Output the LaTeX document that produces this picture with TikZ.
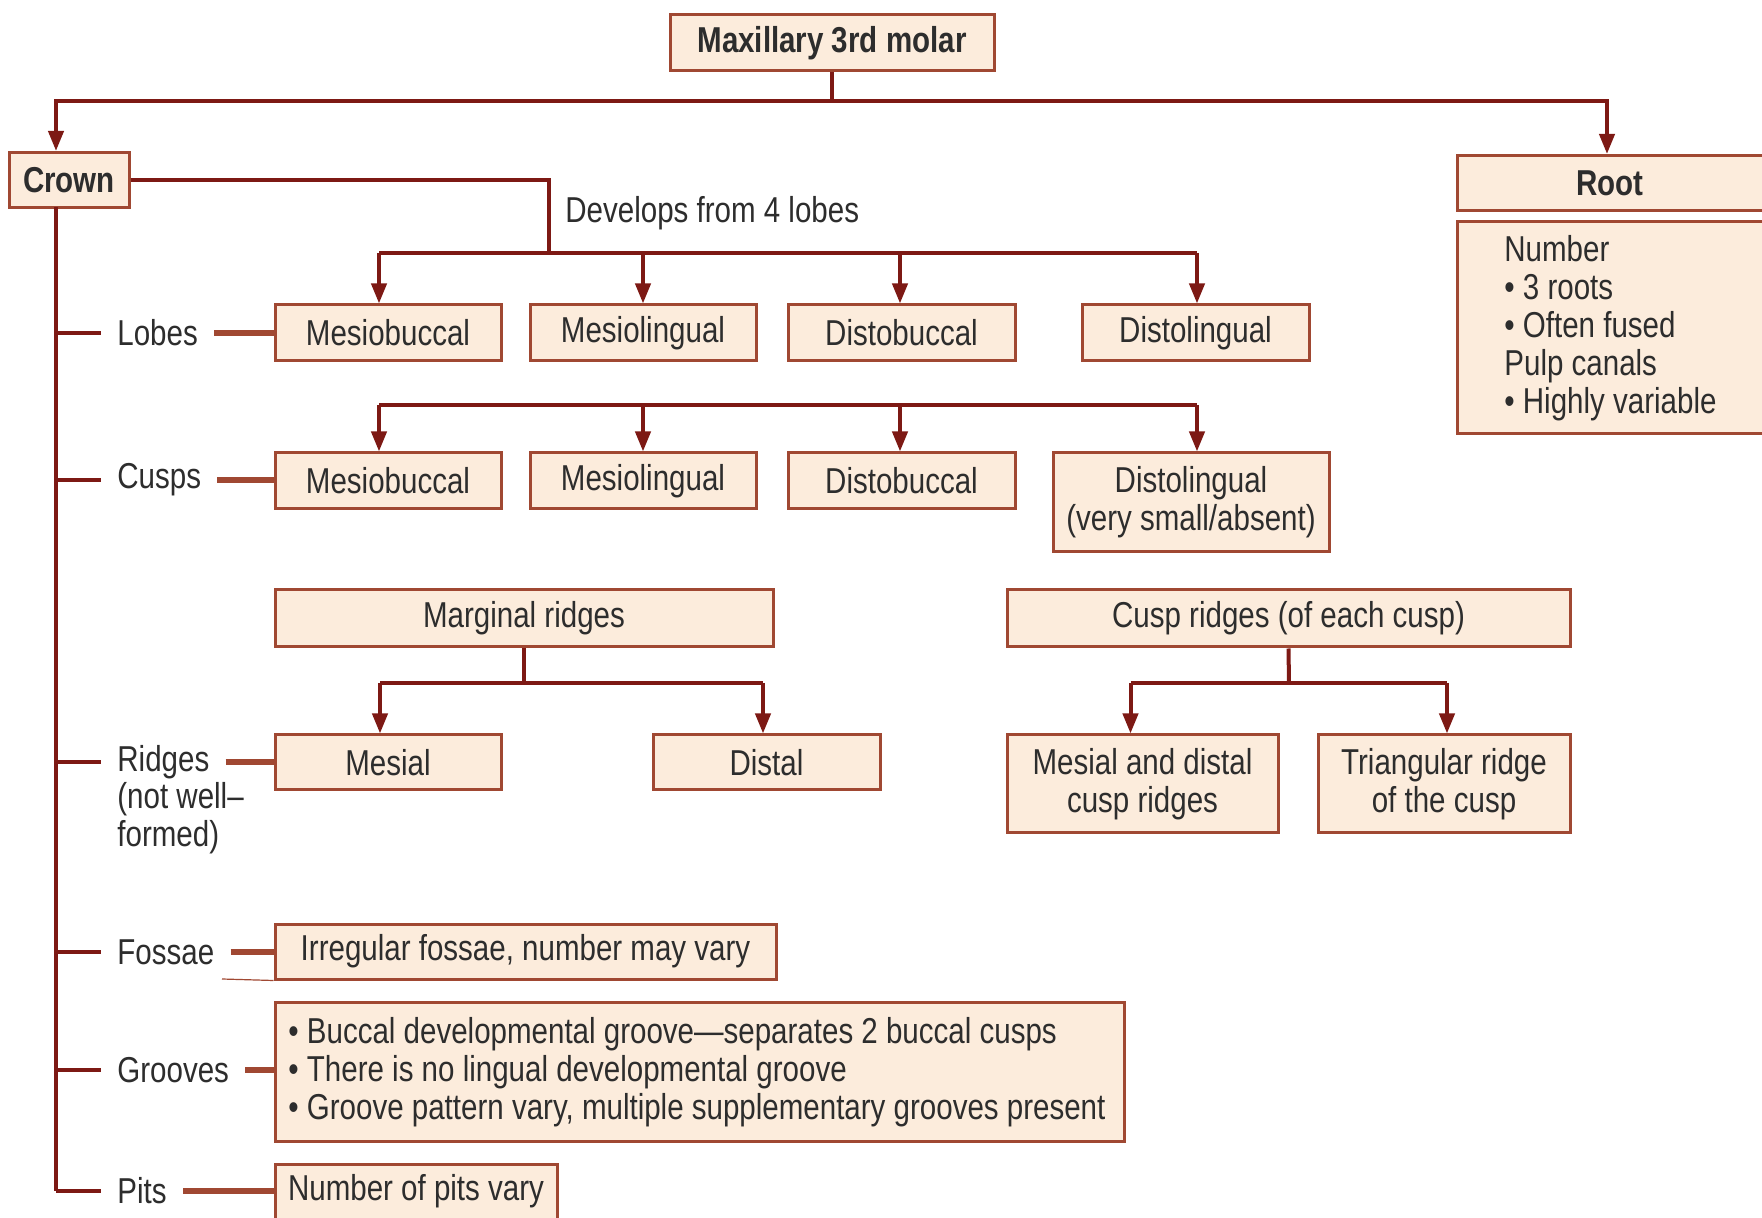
\documentclass[tikz,border=0pt]{standalone}
\usepackage{fontspec}
\setmainfont[FakeStretch=0.82]{Liberation Sans}
\usetikzlibrary{arrows.meta}
\definecolor{lc}{RGB}{125,25,20}
\definecolor{bc}{RGB}{160,72,50}
\definecolor{bf}{RGB}{252,236,220}
\definecolor{tc}{RGB}{45,45,45}
\newcommand{\myfs}{\fontsize{18}{19}\selectfont}
\begin{document}
\begin{tikzpicture}[x=0.5pt,y=-0.5pt,
  bx/.style={draw=bc, fill=bf, line width=1.5pt, inner sep=0pt, text=tc, align=center, font=\myfs},
  bbx/.style={bx, font=\myfs\bfseries},
  lbl/.style={text=tc, font=\myfs, inner xsep=8pt, inner ysep=2pt},
  conn/.style={draw=lc, line width=2pt},
  arr/.style={conn, -{Triangle[length=10pt,width=7.5pt]}},
  lnk/.style={draw=bc, line width=2.6pt}]
\useasboundingbox (0,0) rectangle (1762,1218);
\fill[white] (0,0) rectangle (1762,1218);

% main nodes
\node[bbx, minimum width=162pt, minimum height=28pt] (top) at (832,43) {Maxillary 3rd molar};
\node[bbx, minimum width=60pt, minimum height=27.5pt] (crown) at (69,180) {Crown};
\node[bx, minimum width=159pt, minimum height=27.5pt] (root) at (1616,183) {};
\node[text=tc, font=\myfs\bfseries, inner sep=0pt] (roottext) at (1610,183) {Root};
\node[bx, minimum width=159pt, minimum height=106pt] (rootinfo) at (1616,328) {};
\node[text=tc, font=\myfs, anchor=west, align=left, inner sep=0pt] (rootinfotext) at (1504,328)
  {Number\\\textbullet\ 3 roots\\\textbullet\ Often fused\\Pulp canals\\\textbullet\ Highly variable};

\coordinate (spinetop) at (56,207);
\coordinate (bt) at (832,101);
\draw[conn] (top.south) -- (bt);
\draw[arr] (bt) -| (spinetop |- crown.north);
\draw[arr] (bt) -| ([xshift=-4.5pt]root.north);

% lobes
\node[text=tc, font=\myfs, anchor=west, inner sep=0pt] (dev) at (565,213) {Develops from 4 lobes};
\node[bx, minimum width=113pt, minimum height=28pt] (L1) at (388,333) {Mesiobuccal};
\node[bx, minimum width=113pt, minimum height=28pt] (L2) at (643,333) {Mesiolingual};
\node[bx, minimum width=113.5pt, minimum height=28pt] (L3) at (901.5,333) {Distobuccal};
\node[bx, minimum width=113.5pt, minimum height=28pt] (L4) at (1195.5,333) {Distolingual};
\coordinate (cb) at (549,253);
\draw[conn] (crown.east) -| (cb);
\draw[conn] ([xshift=-4.5pt]L1.north |- cb) -- ([xshift=0.75pt]L4.north |- cb);
\draw[arr] ([xshift=-4.5pt]L1.north |- cb) -- ([xshift=-4.5pt]L1.north);
\draw[arr] (L2.north |- cb) -- (L2.north);
\draw[arr] ([xshift=-0.75pt]L3.north |- cb) -- ([xshift=-0.75pt]L3.north);
\draw[arr] ([xshift=0.75pt]L4.north |- cb) -- ([xshift=0.75pt]L4.north);

% cusps
\node[bx, minimum width=113pt, minimum height=28pt] (C1) at (388,481) {Mesiobuccal};
\node[bx, minimum width=113pt, minimum height=28pt] (C2) at (643,481) {Mesiolingual};
\node[bx, minimum width=113.5pt, minimum height=28pt] (C3) at (901.5,481) {Distobuccal};
\node[bx, minimum width=138pt, minimum height=49.5pt] (C4) at (1191,502.5) {Distolingual\\(very small/absent)};
\coordinate (cub) at (379,405);
\draw[conn] (cub) -- ([xshift=3pt]C4.north |- cub);
\draw[arr] (cub) -- ([xshift=-4.5pt]C1.north);
\draw[arr] (C2.north |- cub) -- (C2.north);
\draw[arr] ([xshift=-0.75pt]C3.north |- cub) -- ([xshift=-0.75pt]C3.north);
\draw[arr] ([xshift=3pt]C4.north |- cub) -- ([xshift=3pt]C4.north);

% ridges
\node[bx, minimum width=249pt, minimum height=28.5pt] (mr) at (524,618.5) {Marginal ridges};
\node[bx, minimum width=113pt, minimum height=27.5pt] (mes) at (388,762.5) {Mesial};
\node[bx, minimum width=113.5pt, minimum height=27.5pt] (dis) at (766.5,762.5) {Distal};
\node[bx, minimum width=281.5pt, minimum height=28.5pt] (cr) at (1288.5,618.5) {Cusp ridges (of each cusp)};
\node[bx, minimum width=135.5pt, minimum height=49pt] (md) at (1142.5,784) {Mesial and distal\\cusp ridges};
\node[bx, minimum width=126pt, minimum height=49pt] (tri) at (1444,784) {Triangular ridge\\of the cusp};
\coordinate (mb) at (524,683);
\draw[conn] (mr.south) -- (mb);
\draw[conn] ([xshift=-4pt]mes.north |- mb) -- ([xshift=-1.75pt]dis.north |- mb);
\draw[arr] ([xshift=-4pt]mes.north |- mb) -- ([xshift=-4pt]mes.north);
\draw[arr] ([xshift=-1.75pt]dis.north |- mb) -- ([xshift=-1.75pt]dis.north);
\coordinate (cb2) at (1289,683);
\draw[conn] (cr.south) -- (cb2);
\draw[conn] ([xshift=-6pt]md.north |- cb2) -- ([xshift=1.5pt]tri.north |- cb2);
\draw[arr] ([xshift=-6pt]md.north |- cb2) -- ([xshift=-6pt]md.north);
\draw[arr] ([xshift=1.5pt]tri.north |- cb2) -- ([xshift=1.5pt]tri.north);

% fossae, grooves, pits
\node[bx, minimum width=250.5pt, minimum height=27.5pt] (fos) at (525.5,951.5) {Irregular fossae, number may vary};
\node[bx, minimum width=424.5pt, minimum height=69.5pt] (grv) at (699.5,1071.5) {};
\node[text=tc, font=\myfs, anchor=west, align=left, inner sep=0pt] (grvtext) at (288,1072)
  {\textbullet\ Buccal developmental groove---separates 2 buccal cusps\\
   \textbullet\ There is no lingual developmental groove\\
   \textbullet\ Groove pattern vary, multiple supplementary grooves present};
\node[bx, minimum width=141pt, minimum height=38pt] (pit) at (416,1202) {};
\node[text=tc, font=\myfs, inner sep=0pt] (pittext) at (416,1191) {Number of pits vary};
\draw[draw=bc, line width=0.6pt] (222,979) -- (fos.south west);

% spine labels
\node[lbl, anchor=west] (lobes) at (101,333) {Lobes};
\node[lbl, anchor=west] (cusps) at (101,480) {Cusps};
\node[lbl, anchor=west] (ridges) at (101,762) {Ridges};
\node[lbl, anchor=west, align=left] (ridgesnote) at (101,818.5) {(not well--\\formed)};
\node[lbl, anchor=west] (fossae) at (101,952) {Fossae};
\node[lbl, anchor=west] (grooves) at (101,1070) {Grooves};
\node[lbl, anchor=west] (pits) at (101,1191) {Pits};

\draw[conn] (spinetop) -- (spinetop |- pits.west);
\foreach \n in {lobes,cusps,ridges,fossae,grooves,pits}{
  \draw[conn] (spinetop |- \n.west) -- (\n.west);
}
\draw[lnk] (lobes.east) -- (lobes.east -| L1.west);
\draw[lnk] (cusps.east) -- (cusps.east -| C1.west);
\draw[lnk] (ridges.east) -- (ridges.east -| mes.west);
\draw[lnk] (fossae.east) -- (fossae.east -| fos.west);
\draw[lnk] (grooves.east) -- (grooves.east -| grv.west);
\draw[lnk] (pits.east) -- (pits.east -| pit.west);
\end{tikzpicture}
\end{document}
